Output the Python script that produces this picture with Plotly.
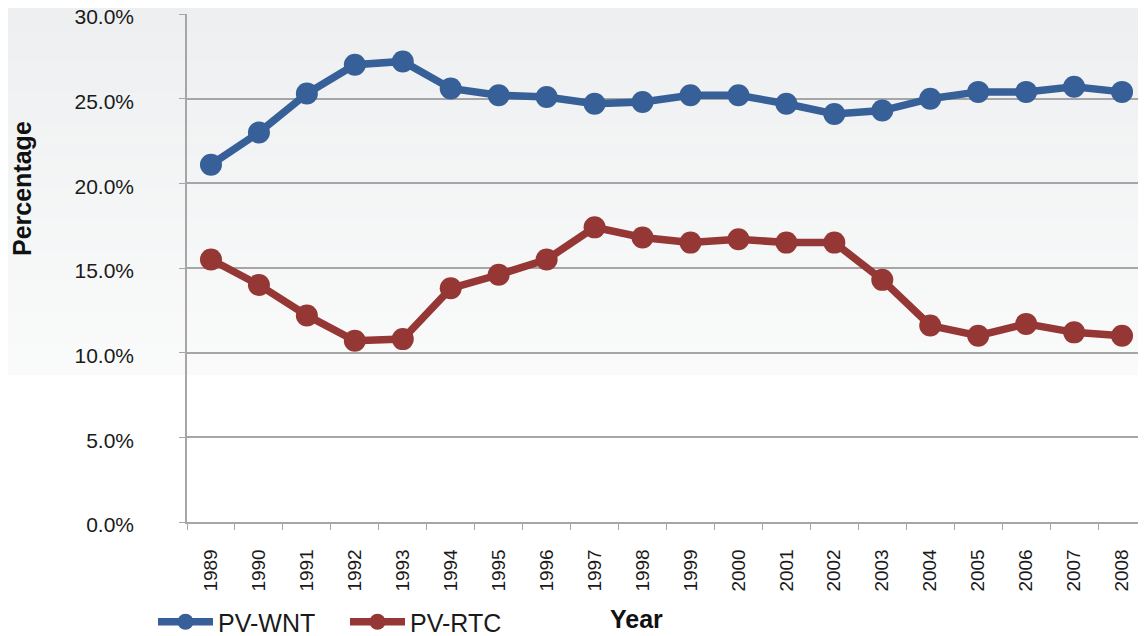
import plotly.graph_objects as go

years = [str(y) for y in range(1989, 2009)]
pv_wnt = [21.1, 23.0, 25.3, 27.0, 27.2, 25.6, 25.2, 25.1, 24.7, 24.8,
          25.2, 25.2, 24.7, 24.1, 24.3, 25.0, 25.4, 25.4, 25.7, 25.4]
pv_rtc = [15.5, 14.0, 12.2, 10.7, 10.8, 13.8, 14.6, 15.5, 17.4, 16.8,
          16.5, 16.7, 16.5, 16.5, 14.3, 11.6, 11.0, 11.7, 11.2, 11.0]
y_ticks = [0, 5, 10, 15, 20, 25, 30]
y_tick_text = ["%.1f%%" % v for v in y_ticks]

BLUE = "#375f98"
RED = "#953735"
FONT = "Liberation Sans, Arial, sans-serif"

OFF = 8  # page body margin
W, H = 1146 - OFF, 636 - OFF
L, R, T, B = 187 - OFF, 0, 14 - OFF, 114
PW = W - L - R
PH = H - T - B

def px_x(p):  # screen pixel -> paper x
    return (p - OFF - L) / PW

def px_y(p):  # screen pixel -> paper y
    return (H - B - (p - OFF)) / PH

fig = go.Figure()
fig.add_trace(go.Scatter(x=years, y=pv_wnt, name="PV-WNT", mode="lines+markers",
                         line=dict(color=BLUE, width=7.5),
                         marker=dict(color=BLUE, size=22)))
fig.add_trace(go.Scatter(x=years, y=pv_rtc, name="PV-RTC", mode="lines+markers",
                         line=dict(color=RED, width=7.5),
                         marker=dict(color=RED, size=22)))

# subtle vertical gradient in the upper background
shapes = []
N = 24
top_pix, bot_pix = 0.0, 375.0
c0 = (237, 239, 240)
c1 = (250, 250, 250)
for i in range(N):
    t = i / (N - 1)
    col = tuple(round(c0[k] + (c1[k] - c0[k]) * t) for k in range(3))
    p0 = top_pix + (bot_pix - top_pix) * i / N
    p1 = top_pix + (bot_pix - top_pix) * (i + 1) / N
    shapes.append(dict(type="rect", xref="paper", yref="paper",
                       x0=px_x(0), x1=px_x(1150), y0=px_y(p1), y1=px_y(p0 - 1) if i == 0 else px_y(p0) + 0.0005,
                       fillcolor="rgb(%d,%d,%d)" % col, line=dict(width=0),
                       layer="below"))

fig.update_layout(
    width=W, height=H,
    margin=dict(l=L, r=R, t=T, b=B, autoexpand=False),
    paper_bgcolor="white", plot_bgcolor="rgba(0,0,0,0)",
    font=dict(family=FONT, color="#1a1a1a"),
    shapes=shapes,
    showlegend=True,
    legend=dict(orientation="h", x=px_x(153), xanchor="left",
                y=px_y(622), yanchor="middle",
                font=dict(size=25, family=FONT, color="#1a1a1a"),
                bgcolor="rgba(0,0,0,0)", itemwidth=55, entrywidth=122,
                tracegroupgap=0),
    annotations=[
        dict(text="<b>Year</b>", x=px_x(636), xref="paper", xanchor="center",
             y=px_y(619), yref="paper", yanchor="middle",
             showarrow=False, font=dict(size=25, family=FONT, color="#111")),
        dict(text="<b>Percentage</b>", x=px_x(22), xref="paper", xanchor="center",
             y=px_y(189), yref="paper", yanchor="middle", textangle=-90,
             showarrow=False, font=dict(size=25, family=FONT, color="#111")),
    ],
)

fig.update_xaxes(
    type="category", tickangle=-90,
    tickfont=dict(size=19, family=FONT, color="#1a1a1a"),
    showline=True, linecolor="#a6a6a6", linewidth=1.5,
    ticks="outside", tickson="boundaries", ticklen=6, tickcolor="#a6a6a6",
    showgrid=False, range=[-0.5, 19.5], automargin=False,
    ticklabelstandoff=18,
)
fig.update_yaxes(
    range=[0, 30.0001], tickvals=y_ticks, ticktext=y_tick_text,
    tickfont=dict(size=21, family=FONT, color="#1a1a1a"),
    showline=True, linecolor="#a6a6a6", linewidth=1.5,
    ticks="outside", ticklen=6, tickcolor="#a6a6a6",
    showgrid=True, gridcolor="#a6a6a6", gridwidth=1.5,
    zeroline=False, ticklabelstandoff=41, automargin=False,
    ticklabeloverflow="allow", ticklabelshift=3,
)

fig.write_html("out.html")
